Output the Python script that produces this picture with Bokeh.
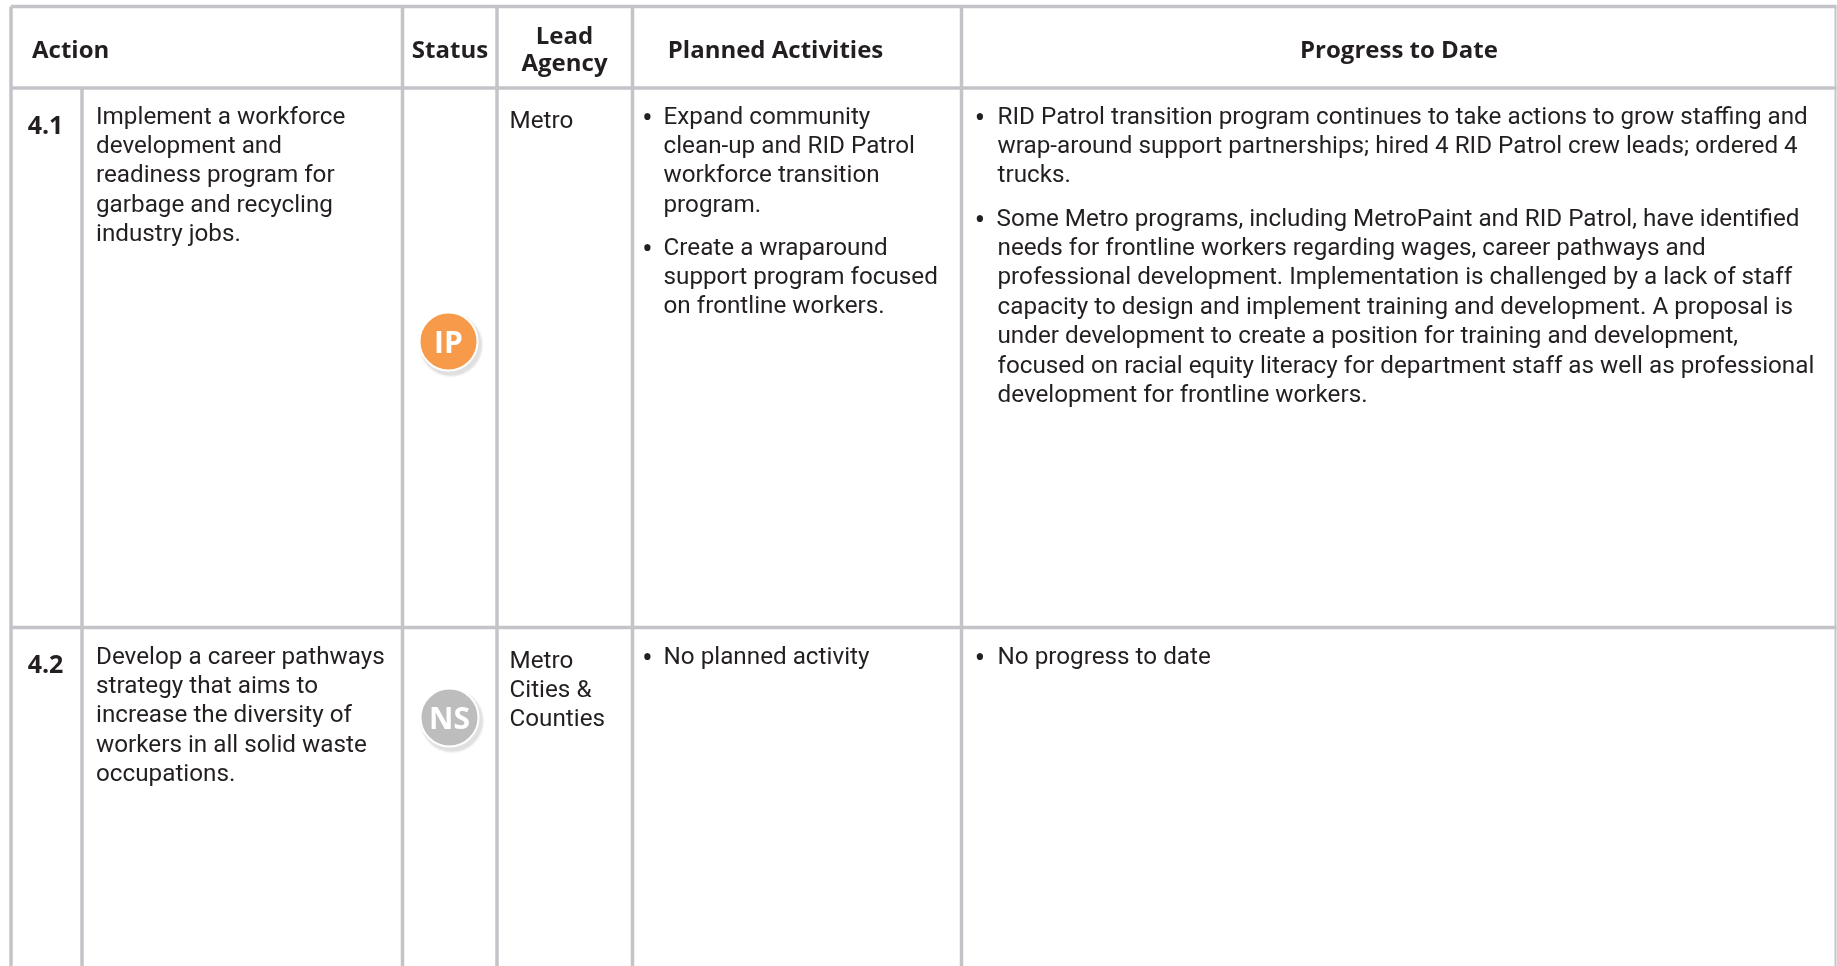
from bokeh.plotting import figure
from bokeh.models import Range1d
from bokeh.core.properties import value
from bokeh.embed import file_html
from bokeh.resources import INLINE

BODY = "Roboto"
HEAD = "Open Sans"
INK = "#231f20"
RULE = "#c3c4c8"

row_ids = ["4.1", "4.2"]
statuses = ["IP", "NS"]
status_colors = ["#f79a49", "#bdbdbd"]

action_41 = ["Implement a workforce", "development and", "readiness program for",
             "garbage and recycling", "industry jobs."]
action_42 = ["Develop a career pathways", "strategy that aims to", "increase the diversity of",
             "workers in all solid waste", "occupations."]
lead_41 = ["Metro"]
lead_42 = ["Metro", "Cities &", "Counties"]
plan_41a = ["Expand community", "clean-up and RID Patrol", "workforce transition", "program."]
plan_41b = ["Create a wraparound", "support program focused", "on frontline workers."]
plan_42 = ["No planned activity"]
prog_41a = ["RID Patrol transition program continues to take actions to grow staffing and",
            "wrap-around support partnerships; hired 4 RID Patrol crew leads; ordered 4",
            "trucks."]
prog_41b_first = ["Some Metro programs, including MetroPaint and RID Patrol, have identified"]
prog_41b_rest = ["needs for frontline workers regarding wages, career pathways and",
                 "professional development. Implementation is challenged by a lack of staff",
                 "capacity to design and implement training and development. A proposal is",
                 "under development to create a position for training and development,",
                 "focused on racial equity literacy for department staff as well as professional",
                 "development for frontline workers."]
prog_42 = ["No progress to date"]

W, H = 1837, 966
p = figure(width=W, height=H, output_backend="svg", toolbar_location=None,
           x_range=Range1d(0, W), y_range=Range1d(H, 0), min_border=0,
           outline_line_color=None, background_fill_color="white",
           border_fill_color="white",
           styles={"position": "fixed", "left": "0", "top": "0"})
p.axis.visible = False
p.grid.visible = False

# rules
vx = [10.5, 402, 496.5, 632, 961]
p.segment(vx, [6] * 5, vx, [H] * 5, line_color=RULE, line_width=3.5)
p.segment([1835], [6], [1835], [H], line_color=RULE, line_width=2)
p.segment([10.5, 10.5, 10.5], [6, 87.5, 627], [1836, 1836, 1836], [6, 87.5, 627], line_color=RULE, line_width=3.5)
p.segment([81.5, 81.5], [87.5, 627], [81.5, 81.5], [627, H], line_color=RULE, line_width=3.5)


def put(lines, x, y, size, font=BODY, style="normal", align="left", lh=29.4):
    p.text([x] * len(lines), [y + i * lh for i in range(len(lines))], text=lines,
           text_font=value(font), text_font_size=f"{size}px", text_font_style=style,
           text_color=INK, text_align=align, text_baseline="middle")


S = 24.25
HS = 24
put(["Action"], 31.5, 48, HS, HEAD, "bold")
put(["Status"], 449.5, 48, HS, HEAD, "bold", "center")
put(["Lead"], 564, 34, HS, HEAD, "bold", "center")
put(["Agency"], 564, 60.5, HS, HEAD, "bold", "center")
put(["Planned Activities"], 775, 48, HS, HEAD, "bold", "center")
put(["Progress to Date"], 1398.5, 48, HS, HEAD, "bold", "center")

put([row_ids[0]], 45, 124, 25, HEAD, "bold", "center")
put([row_ids[1]], 45, 663, 25, HEAD, "bold", "center")

put(action_41, 95.5, 115, S)
put(action_42, 95.5, 655, S)
put(lead_41, 509, 119, S)
put(lead_42, 509, 659, S)

put(plan_41a, 663, 115, S)
put(plan_41b, 663, 246, S)
put(plan_42, 663, 655, S)

put(prog_41a, 997, 115, S)
put(prog_41b_first, 996, 217, S)
put(prog_41b_rest, 997, 246.4, S)
put(prog_42, 997, 655, S)

BS = 30
for bullet_x, bullet_ys in [(647, [115, 246, 655]), (979.5, [115, 217, 655])]:
    for bullet_y in bullet_ys:
        put(["•"], bullet_x, bullet_y, BS, "Open Sans", "normal", "center")

# status badges
bx = [448, 449]
by = [341, 717]
for grow, alpha in [(3.5, 0.03), (2.5, 0.04), (1.5, 0.05)]:
    p.circle([b + 2.5 for b in bx], [b + 3.5 for b in by], radius=29 + grow,
             fill_color="#000000", fill_alpha=alpha, line_color=None)
p.circle(bx, by, radius=29, fill_color=status_colors, line_color="white", line_width=2)
p.text(bx, by, text=statuses, text_font=value(HEAD), text_font_style="bold", text_font_size="30px",
       text_color="white", text_align="center", text_baseline="middle")

open("out.html", "w").write(file_html(p, INLINE))
